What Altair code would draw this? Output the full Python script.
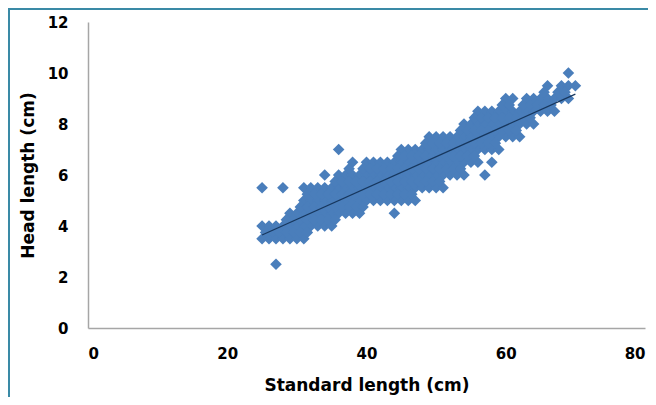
import altair as alt
import pandas as pd

# Standard length (cm) and head length (cm) (grouped by standard length)
std_len = (
    [25, 25, 25] +
    [26, 26] +
    [27, 27, 27] +
    [28, 28, 28] +
    [29, 29, 29] +
    [30, 30, 30] +
    [31, 31, 31, 31, 31] +
    [32, 32, 32, 32] +
    [33, 33, 33, 33] +
    [34, 34, 34, 34, 34] +
    [35, 35, 35, 35] +
    [36, 36, 36, 36, 36] +
    [37, 37, 37, 37] +
    [38, 38, 38, 38, 38] +
    [39, 39, 39, 39] +
    [40, 40, 40, 40] +
    [41, 41, 41, 41] +
    [42, 42, 42, 42] +
    [43, 43, 43, 43] +
    [44, 44, 44, 44, 44] +
    [45, 45, 45, 45, 45] +
    [46, 46, 46, 46, 46] +
    [47, 47, 47, 47, 47] +
    [48, 48, 48, 48] +
    [49, 49, 49, 49, 49] +
    [50, 50, 50, 50, 50] +
    [51, 51, 51, 51, 51] +
    [52, 52, 52, 52] +
    [53, 53, 53, 53] +
    [54, 54, 54, 54, 54] +
    [55, 55, 55, 55] +
    [56, 56, 56, 56, 56] +
    [57, 57, 57, 57, 57] +
    [58, 58, 58, 58, 58] +
    [59, 59, 59, 59] +
    [60, 60, 60, 60] +
    [61, 61, 61, 61] +
    [62, 62, 62] +
    [63, 63, 63] +
    [64, 64, 64] +
    [65, 65] +
    [66, 66, 66] +
    [67, 67] +
    [68, 68] +
    [69, 69, 69] +
    [70]
)
head_len = (
    [3.5, 4.0, 5.5] +
    [3.5, 4.0] +
    [2.5, 3.5, 4.0] +
    [3.5, 4.0, 5.5] +
    [3.5, 4.0, 4.5] +
    [3.5, 4.0, 4.5] +
    [3.5, 4.0, 4.5, 5.0, 5.5] +
    [4.0, 4.5, 5.0, 5.5] +
    [4.0, 4.5, 5.0, 5.5] +
    [4.0, 4.5, 5.0, 5.5, 6.0] +
    [4.0, 4.5, 5.0, 5.5] +
    [4.5, 5.0, 5.5, 6.0, 7.0] +
    [4.5, 5.0, 5.5, 6.0] +
    [4.5, 5.0, 5.5, 6.0, 6.5] +
    [4.5, 5.0, 5.5, 6.0] +
    [5.0, 5.5, 6.0, 6.5] +
    [5.0, 5.5, 6.0, 6.5] +
    [5.0, 5.5, 6.0, 6.5] +
    [5.0, 5.5, 6.0, 6.5] +
    [4.5, 5.0, 5.5, 6.0, 6.5] +
    [5.0, 5.5, 6.0, 6.5, 7.0] +
    [5.0, 5.5, 6.0, 6.5, 7.0] +
    [5.0, 5.5, 6.0, 6.5, 7.0] +
    [5.5, 6.0, 6.5, 7.0] +
    [5.5, 6.0, 6.5, 7.0, 7.5] +
    [5.5, 6.0, 6.5, 7.0, 7.5] +
    [5.5, 6.0, 6.5, 7.0, 7.5] +
    [6.0, 6.5, 7.0, 7.5] +
    [6.0, 6.5, 7.0, 7.5] +
    [6.0, 6.5, 7.0, 7.5, 8.0] +
    [6.5, 7.0, 7.5, 8.0] +
    [6.5, 7.0, 7.5, 8.0, 8.5] +
    [6.0, 7.0, 7.5, 8.0, 8.5] +
    [6.5, 7.0, 7.5, 8.0, 8.5] +
    [7.0, 7.5, 8.0, 8.5] +
    [7.5, 8.0, 8.5, 9.0] +
    [7.5, 8.0, 8.5, 9.0] +
    [7.5, 8.0, 8.5] +
    [8.0, 8.5, 9.0] +
    [8.0, 8.5, 9.0] +
    [8.5, 9.0] +
    [8.5, 9.0, 9.5] +
    [8.5, 9.0] +
    [9.0, 9.5] +
    [9.0, 9.5, 10.0] +
    [9.5]
)

# Dense interior of the cloud (fish between the whole-cm columns)
mid_std = (
    [25.5] + [26.5] + [27.5] +
    [28.5, 28.5] + [29.5, 29.5] +
    [30.5, 30.5, 30.5] +
    [31.5, 31.5, 31.5, 31.5] +
    [32.5, 32.5, 32.5] + [33.5, 33.5, 33.5] + [34.5, 34.5, 34.5] +
    [35.5, 35.5, 35.5, 35.5] +
    [36.5, 36.5, 36.5] +
    [37.5, 37.5, 37.5, 37.5] +
    [38.5, 38.5, 38.5] +
    [39.5, 39.5, 39.5, 39.5] +
    [40.5, 40.5, 40.5] + [41.5, 41.5, 41.5] + [42.5, 42.5, 42.5] + [43.5, 43.5, 43.5] +
    [44.5, 44.5, 44.5, 44.5] + [45.5, 45.5, 45.5, 45.5] + [46.5, 46.5, 46.5, 46.5] +
    [47.5, 47.5, 47.5] +
    [48.5, 48.5, 48.5, 48.5] + [49.5, 49.5, 49.5, 49.5] + [50.5, 50.5, 50.5, 50.5] +
    [51.5, 51.5, 51.5] + [52.5, 52.5, 52.5] +
    [53.5, 53.5, 53.5, 53.5] +
    [54.5, 54.5, 54.5] +
    [55.5, 55.5, 55.5, 55.5] +
    [56.5, 56.5, 56.5] + [57.5, 57.5, 57.5] + [58.5, 58.5, 58.5] +
    [59.5, 59.5, 59.5] + [60.5, 60.5, 60.5] +
    [61.5, 61.5] + [62.5, 62.5] + [63.5, 63.5] +
    [64.5] + [65.5, 65.5] + [66.5] + [67.5] + [68.5]
)
mid_head = (
    [3.75] + [3.75] + [3.75] +
    [3.75, 4.25] + [3.75, 4.25] +
    [3.75, 4.25, 4.75] +
    [3.75, 4.25, 4.75, 5.25] +
    [4.25, 4.75, 5.25] + [4.25, 4.75, 5.25] + [4.25, 4.75, 5.25] +
    [4.25, 4.75, 5.25, 5.75] +
    [4.75, 5.25, 5.75] +
    [4.75, 5.25, 5.75, 6.25] +
    [4.75, 5.25, 5.75] +
    [4.75, 5.25, 5.75, 6.25] +
    [5.25, 5.75, 6.25] + [5.25, 5.75, 6.25] + [5.25, 5.75, 6.25] + [5.25, 5.75, 6.25] +
    [5.25, 5.75, 6.25, 6.75] + [5.25, 5.75, 6.25, 6.75] + [5.25, 5.75, 6.25, 6.75] +
    [5.75, 6.25, 6.75] +
    [5.75, 6.25, 6.75, 7.25] + [5.75, 6.25, 6.75, 7.25] + [5.75, 6.25, 6.75, 7.25] +
    [6.25, 6.75, 7.25] + [6.25, 6.75, 7.25] +
    [6.25, 6.75, 7.25, 7.75] +
    [6.75, 7.25, 7.75] +
    [6.75, 7.25, 7.75, 8.25] +
    [7.25, 7.75, 8.25] + [7.25, 7.75, 8.25] + [7.25, 7.75, 8.25] +
    [7.75, 8.25, 8.75] + [7.75, 8.25, 8.75] +
    [7.75, 8.25] + [8.25, 8.75] + [8.25, 8.75] +
    [8.75] + [8.75, 9.25] + [8.75] + [9.25] + [9.25]
)

x_ticks = [0, 20, 40, 60, 80]
y_ticks = [0, 2, 4, 6, 8, 10, 12]

df = pd.DataFrame({"std": std_len + mid_std, "head": head_len + mid_head})

FONT = "DejaVu Sans"

x_enc = alt.X(
    "std:Q",
    scale=alt.Scale(domain=[0, 80], nice=False, zero=False),
    axis=alt.Axis(values=x_ticks, title="Standard length (cm)", labelPadding=18,
                  titlePadding=16, format="d"),
)
y_enc = alt.Y(
    "head:Q",
    scale=alt.Scale(domain=[0, 12], nice=False, zero=False),
    axis=alt.Axis(values=y_ticks, title="Head length (cm)", labelPadding=20,
                  titlePadding=10, format="d"),
)

points = alt.Chart(df).mark_point(
    shape="diamond", filled=True, size=135, color="#4a7ebb", opacity=1
).encode(x=x_enc, y=y_enc)

trend = alt.Chart(df).transform_regression("std", "head").mark_line(
    color="#17375e", strokeWidth=1.2
).encode(x="std:Q", y="head:Q")

frame_df = pd.DataFrame({"k": [0]})
frame_top = alt.Chart(frame_df).mark_rule(color="#3a8aa6", strokeWidth=2).encode(
    x=alt.value(-80), x2=alt.value(560), y=alt.value(-13)
)
frame_left = alt.Chart(frame_df).mark_rule(color="#3a8aa6", strokeWidth=2).encode(
    x=alt.value(-79), y=alt.value(-14), y2=alt.value(380)
)

chart = alt.layer(points, trend, frame_top, frame_left).properties(
    width=557,
    height=306,
    autosize=alt.AutoSizeParams(type="none"),
    padding={"left": 80, "top": 14, "right": 3, "bottom": 69},
).configure_view(stroke=None).configure_axis(
    grid=False,
    ticks=False,
    domainColor="#a6a6a6",
    domainWidth=1.5,
    labelFont=FONT,
    labelFontWeight="bold",
    labelFontSize=15,
    labelColor="#000000",
    titleFont=FONT,
    titleFontWeight="bold",
    titleFontSize=17,
    titleColor="#000000",
)

chart.save("out.html", embed_options={"renderer": "svg", "actions": False})
